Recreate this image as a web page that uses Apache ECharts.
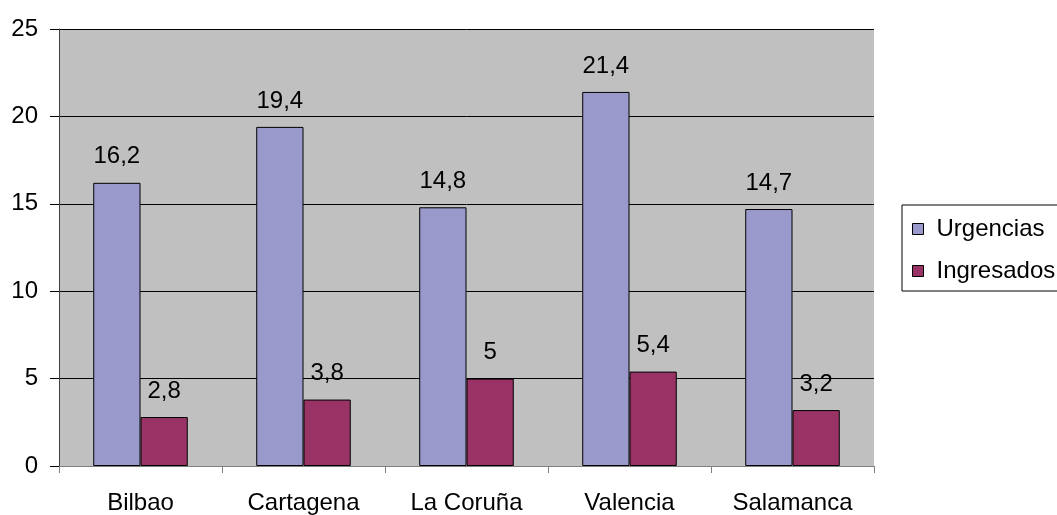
<!DOCTYPE html>
<html><head><meta charset="utf-8">
<script src="https://cdn.jsdelivr.net/npm/echarts@6/dist/echarts.min.js"></script>
<style>html,body{margin:0;padding:0;background:#fff}#c{width:1057px;height:515px}</style>
</head><body><div id="c"></div>
<script>
const categories = ['Bilbao','Cartagena','La Coruña','Valencia','Salamanca'];
const urgencias = [16.2, 19.4, 14.8, 21.4, 14.7];
const ingresados = [2.8, 3.8, 5, 5.4, 3.2];
const yTicks = {min: 0, max: 25, interval: 5};
const fmt = v => String(v).replace('.', ',');
const chart = echarts.init(document.getElementById('c'));
const font = 'Liberation Sans, Arial, sans-serif';
chart.setOption({
  animation: false,
  textStyle: {fontFamily: font},
  grid: {left: 59, top: 29, width: 815, height: 438, backgroundColor: '#C0C0C0', show: true, borderWidth: 0},
  legend: {
    left: 902, top: 205, orient: 'vertical', itemWidth: 11, itemHeight: 11, itemGap: 18,
    borderColor: '#000', borderWidth: 1, padding: [12, 40, 8, 10],
    textStyle: {fontSize: 24, color: '#000', fontFamily: font, padding: [0, 0, 0, 8]},
    icon: 'rect',
    itemStyle: {borderColor: '#000', borderWidth: 1},
    data: ['Urgencias','Ingresados']
  },
  xAxis: {
    type: 'category', data: categories,
    axisLine: {lineStyle: {color: '#808080', width: 1}},
    axisTick: {show: true, length: 7, lineStyle: {color: '#808080'}},
    axisLabel: {fontSize: 24, color: '#000', margin: 25, fontFamily: font}
  },
  yAxis: {
    type: 'value', min: yTicks.min, max: yTicks.max, interval: yTicks.interval,
    axisLine: {show: true, lineStyle: {color: '#404040', width: 1}},
    axisTick: {show: true, length: 9, lineStyle: {color: '#000'}},
    splitLine: {lineStyle: {color: '#000', width: 1}},
    axisLabel: {fontSize: 24, color: '#000', margin: 21, fontFamily: font}
  },
  series: [
    {name: 'Urgencias', type: 'bar', data: urgencias, barGap: '0%', barCategoryGap: '42%',
     itemStyle: {color: '#9999CC', borderColor: '#000', borderWidth: 1},
     label: {show: true, position: 'top', distance: 14, fontSize: 24, color: '#000', formatter: p => fmt(p.value), fontFamily: font}},
    {name: 'Ingresados', type: 'bar', data: ingresados,
     itemStyle: {color: '#993366', borderColor: '#000', borderWidth: 1},
     label: {show: true, position: 'top', distance: 14, fontSize: 24, color: '#000', formatter: p => fmt(p.value), fontFamily: font}}
  ]
});
</script></body></html>
